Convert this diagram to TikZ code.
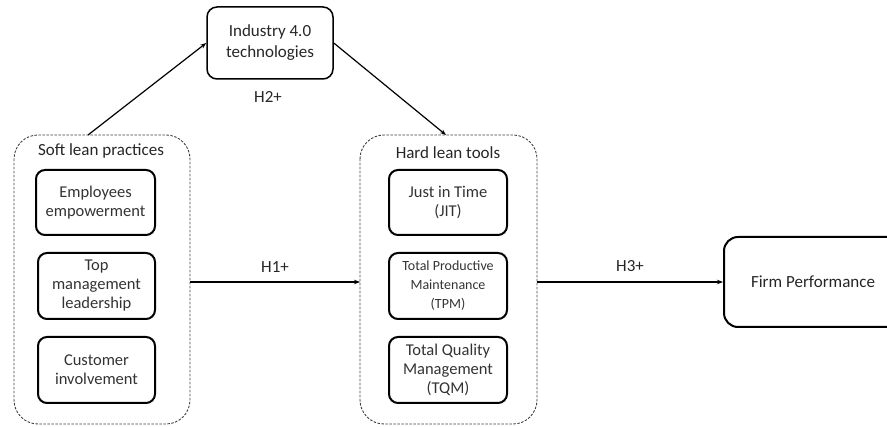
\documentclass[tikz,border=0pt]{standalone}
\usepackage{fontspec}
\setmainfont{Carlito}
\usetikzlibrary{arrows.meta}
\begin{document}
\begin{tikzpicture}[x=1pt,y=-1pt,
  grp/.style={draw=black!75, dashed, dash pattern=on 2.5pt off 1.5pt, line width=0.9pt, rounded corners=24pt},
  item/.style={draw=black, line width=2pt, rounded corners=9pt},
  itxt/.style={align=center, font=\fontsize{16.5}{19}\selectfont, text=black!80},
  stxt/.style={align=center, font=\fontsize{14}{19}\selectfont, text=black!80},
  arr/.style={-{Stealth[length=6pt,width=4.5pt]}, line width=1.2pt},
  lbl/.style={font=\fontsize{17}{19}\selectfont, text=black!85}]
\useasboundingbox (0,0) rectangle (887,427);
\clip (0,0) rectangle (887,427);
% groups
\draw[grp] (14,135) rectangle (190,424);
\coordinate (softT) at (88,135);
\coordinate (softR) at (190,282);
\node[lbl] (softlbl) at (101,151) {Soft lean practices};
\draw[grp] (360,135) rectangle (537,424);
\coordinate (hardT) at (446,135);
\coordinate (hardL) at (360,282);
\coordinate (hardR) at (537,282);
\node[lbl] (hardlbl) at (448,153) {Hard lean tools};
% soft items
\draw[item] (36,170) rectangle (155,235);
\node[itxt] (s1) at (95.5,202.5) {Employees\\empowerment};
\draw[item] (38,253) rectangle (155,319);
\node[itxt] (s2) at (96.5,286) {Top\\management\\leadership};
\draw[item] (38,337) rectangle (155,403);
\node[itxt] (s3) at (96.5,370) {Customer\\involvement};
% hard items
\draw[item] (389,170) rectangle (507,235);
\node[itxt] (h1) at (448,202.5) {Just in Time\\(JIT)};
\draw[item] (389,253) rectangle (507,319);
\node[stxt] (h2) at (448,286) {Total Productive\\Maintenance\\(TPM)};
\draw[item] (389,337) rectangle (507,403);
\node[itxt] (h3) at (448,370) {Total Quality\\Management\\(TQM)};
% industry
\node[draw, line width=1.5pt, rounded corners=10pt, minimum width=126pt, minimum height=72pt, align=center, font=\fontsize{17}{21}\selectfont, text=black!85] (ind) at (270,43) {Industry 4.0\\technologies};
\node[lbl] (h2l) at (268,97) {H2+};
% firm performance
\node[draw, line width=2pt, rounded corners=14pt, minimum width=190pt, minimum height=90pt, anchor=west] (fp) at (723,282) {};
\node[lbl] (fpt) at (813,282) {Firm Performance};
% arrows
\draw[arr] (softT) -- (ind.west);
\draw[arr] (ind.east) -- (hardT);
\draw[arr] (softR) -- node[lbl, above=6pt] {H1+} (hardL);
\draw[arr] (hardR) -- node[lbl, above=6pt] {H3+} (fp.west);
\end{tikzpicture}
\end{document}
